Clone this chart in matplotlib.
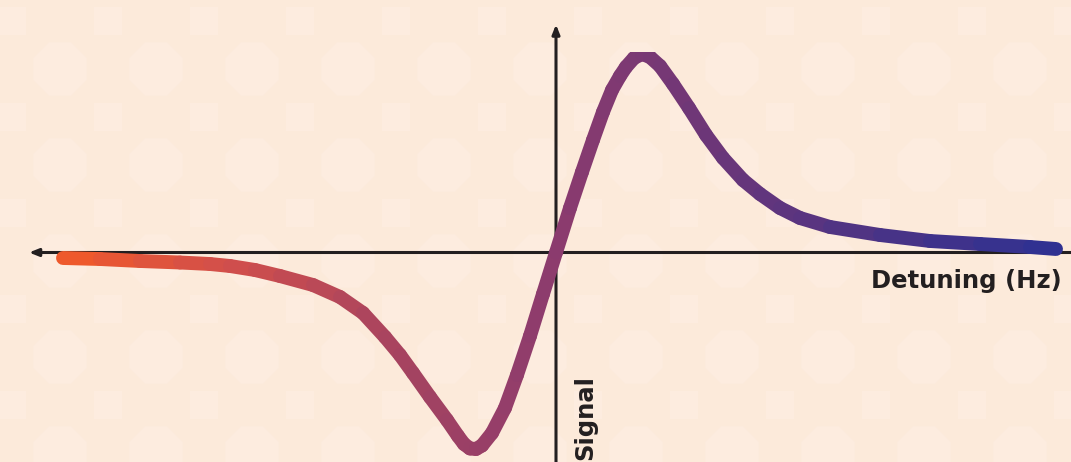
import numpy as np
import matplotlib
matplotlib.use("Agg")
import matplotlib.pyplot as plt
from matplotlib.collections import LineCollection
from matplotlib.colors import LinearSegmentedColormap
from matplotlib.patches import RegularPolygon, Rectangle

# ---- data (arbitrary units) ----
detuning = [-4.93, -4.56, -4.16, -3.76, -3.46, -3.26, -3.01, -2.76, -2.43, -2.16, -1.93, -1.71,
            -1.56, -1.43, -1.26, -1.09, -0.98, -0.92, -0.86, -0.80, -0.74, -0.64, -0.51,
            -0.39, -0.26, -0.13, 0.00, 0.14, 0.26, 0.37, 0.47, 0.56, 0.64, 0.70,
            0.78, 0.86, 0.94, 1.04, 1.17, 1.33, 1.50, 1.67, 1.87, 2.04,
            2.24, 2.44, 2.74, 3.24, 3.74, 4.24, 4.74, 5.00]
signal = [-0.055, -0.065, -0.085, -0.100, -0.115, -0.135, -0.175, -0.235, -0.325, -0.445, -0.605, -0.845,
          -1.025, -1.205, -1.445, -1.675, -1.835, -1.915, -1.960, -1.965, -1.930, -1.805, -1.555,
          -1.225, -0.835, -0.415, 0.000, 0.445, 0.805, 1.125, 1.405, 1.625, 1.765, 1.855,
          1.945, 1.985, 1.955, 1.865, 1.685, 1.445, 1.175, 0.945, 0.725, 0.585,
          0.445, 0.345, 0.255, 0.175, 0.115, 0.085, 0.055, 0.035]
x_label = "Detuning (Hz)"
y_label = "Signal"

BG = "#FCEADA"
TILE = "#FDECDF"
INK = "#231F20"
grad = LinearSegmentedColormap.from_list(
    "g", ["#F15A29", "#D24F4B", "#A8445F", "#8B3B6E", "#6A3679", "#4A3386", "#2E3192"])

W, H = 1071, 462
fig = plt.figure(figsize=(W / 100, H / 100), dpi=100)
fig.patch.set_facecolor(BG)
ax = fig.add_axes([0, 0, 1, 1])
ax.set_facecolor(BG)
x0, x1 = -5.56, 5.15
y0, y1 = -2.095, 2.525
ax.set_xlim(x0, x1)
ax.set_ylim(y0, y1)
ax.axis("off")

# subtle background tiles (octagons), in pixel space
for i in range(-1, 13):
    for j in range(-1, 6):
        cx, cy = 60 + 96 * i, H - (69 + 96 * j)
        ax.add_patch(RegularPolygon((cx, cy), 8, radius=29, orientation=np.pi / 8,
                                    transform=None, facecolor=TILE, edgecolor="none", zorder=0))
        ax.add_patch(Rectangle((cx + 48 - 14, cy - 48 - 14), 28, 28, transform=None,
                               facecolor=TILE, edgecolor="none", zorder=0))

# axes lines with arrows
ax.annotate("", xy=(-5.27, 0), xytext=(x1 + 0.1, 0), annotation_clip=False,
            arrowprops=dict(arrowstyle="-|>,head_length=0.55,head_width=0.22",
                            color=INK, lw=2.2, shrinkA=0, shrinkB=0), zorder=2)
ax.annotate("", xy=(0, 2.28), xytext=(0, y0 - 0.1), annotation_clip=False,
            arrowprops=dict(arrowstyle="-|>,head_length=0.55,head_width=0.22",
                            color=INK, lw=2.2, shrinkA=0, shrinkB=0), zorder=2)

# gradient curve
xs = np.array(detuning)
ys = np.array(signal)
pts = np.column_stack([xs, ys]).reshape(-1, 1, 2)
segs = np.concatenate([pts[:-1], pts[1:]], axis=1)
mid = (xs[:-1] + xs[1:]) / 2
norm = plt.Normalize(xs.min(), xs.max())
lc = LineCollection(segs, colors=grad(norm(mid)), linewidths=10,
                    capstyle="round", joinstyle="round", zorder=3)
ax.add_collection(lc)
clip = Rectangle((x0, y0 - 1), x1 - x0, (2.005 - y0) + 1, transform=ax.transData)
lc.set_clip_path(clip)

# labels
ax.text(1062, H - 288, x_label, transform=None, ha="right", va="baseline",
        fontsize=17.5, fontweight="bold", family="DejaVu Sans", color=INK)
ax.text(592, H - 460, y_label, transform=None, ha="left", va="baseline", rotation=90,
        rotation_mode="anchor", fontsize=17.5, fontweight="bold", family="DejaVu Sans", color=INK)

fig.savefig("out.png", dpi=100, facecolor=BG)
